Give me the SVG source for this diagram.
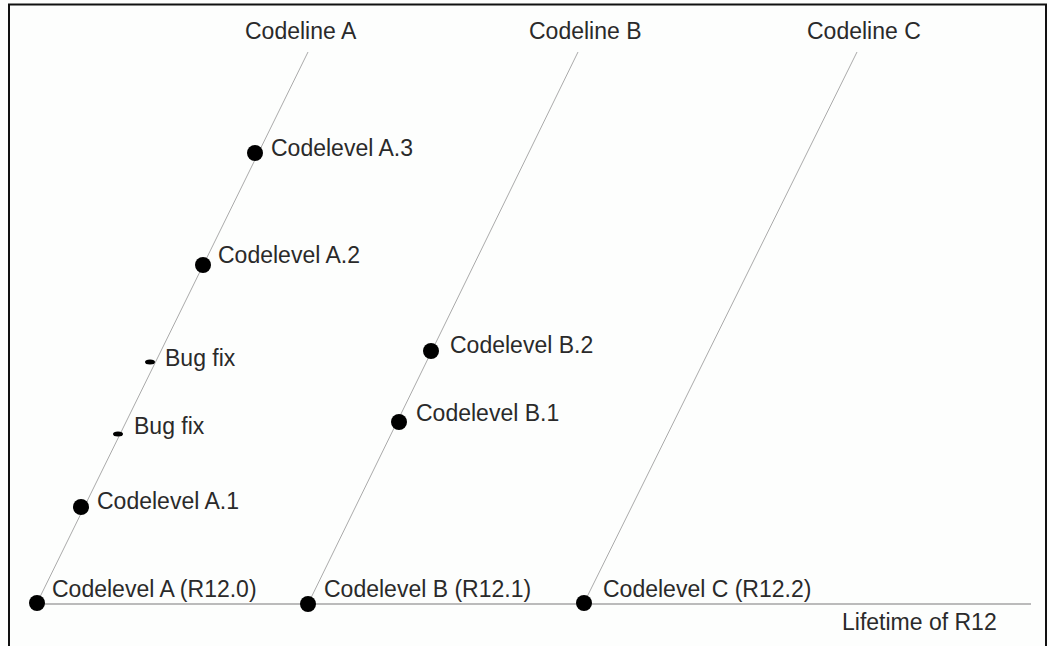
<svg xmlns="http://www.w3.org/2000/svg" width="1049" height="646" viewBox="0 0 1049 646">
<style>
text{font-family:"Liberation Sans",Arial,sans-serif;font-size:23px;fill:#2a2a2a}
.cl{stroke:#aaa;stroke-width:1;fill:none}
.dot{fill:#000}
</style>
<rect x="0" y="0" width="1049" height="646" fill="#fdfefd"/>
<path d="M9 650 V4.5 H1046 V650" fill="none" stroke="#111" stroke-width="2"/>
<g id="connectors">
<line class="cl" x1="37" y1="603" x2="308" y2="52"/>
<line class="cl" x1="308" y1="604" x2="578" y2="52"/>
<line class="cl" x1="584" y1="603" x2="857" y2="52"/>
<line x1="37" y1="604" x2="1031" y2="604" stroke="#bbb" stroke-width="2"/>
</g>
<g id="codeline-a"><text x="245" y="39">Codeline A</text></g>
<g id="codeline-b"><text x="529" y="39">Codeline B</text></g>
<g id="codeline-c"><text x="807" y="39">Codeline C</text></g>
<g id="a3"><circle class="dot" cx="255" cy="153" r="8"/><text x="271" y="156">Codelevel A.3</text></g>
<g id="a2"><circle class="dot" cx="203" cy="265" r="8"/><text x="218" y="263">Codelevel A.2</text></g>
<g id="bug2"><ellipse class="dot" cx="150" cy="362" rx="5" ry="2.5"/><text x="165" y="366">Bug fix</text></g>
<g id="bug1"><ellipse class="dot" cx="118" cy="434" rx="5" ry="2.5"/><text x="134" y="434">Bug fix</text></g>
<g id="a1"><circle class="dot" cx="81" cy="507" r="8"/><text x="97" y="509">Codelevel A.1</text></g>
<g id="a0"><circle class="dot" cx="37" cy="603" r="8"/><text x="52" y="597">Codelevel A (R12.0)</text></g>
<g id="b2"><circle class="dot" cx="431" cy="351" r="8"/><text x="450" y="353">Codelevel B.2</text></g>
<g id="b1"><circle class="dot" cx="399" cy="422" r="8"/><text x="416" y="421">Codelevel B.1</text></g>
<g id="b0"><circle class="dot" cx="308" cy="604" r="8"/><text x="324" y="597">Codelevel B (R12.1)</text></g>
<g id="c0"><circle class="dot" cx="584" cy="603" r="8"/><text x="603" y="597">Codelevel C (R12.2)</text></g>
<g id="lifetime"><text x="842" y="630">Lifetime of R12</text></g>
</svg>
